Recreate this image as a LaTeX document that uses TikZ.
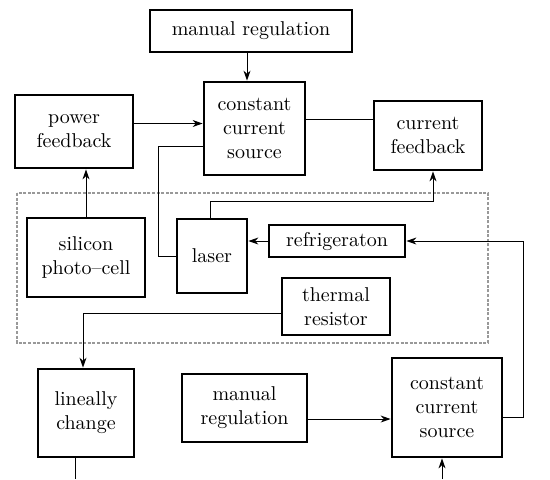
\documentclass[tikz,border=0pt]{standalone}
\usetikzlibrary{arrows.meta}
\tikzset{
  blocco/.style={draw=black, line width=1.4pt, align=center, inner sep=1pt},
  freccia/.style={-{Stealth[length=5pt,width=3.5pt]}, line width=0.5pt},
  linea/.style={line width=0.5pt},
  zona/.style={draw=gray!80, line width=1.3pt, dash pattern=on 1.5pt off 0.8pt},
}

\begin{document}
\begin{tikzpicture}[x=0.5pt, y=-0.5pt]
    \useasboundingbox (0,0) rectangle (550,479);

    % blocchi in alto
    \node[blocco, minimum width=101pt, minimum height=21pt] (manuale) at (251,31) {manual regulation};
    \node[blocco, minimum width=50.5pt, minimum height=46.5pt] (sorgente) at (254.5,128.5) {constant\\current\\source};
    \node[blocco, minimum width=59pt, minimum height=36.5pt] (potenza) at (74,131.5) {power\\feedback};
    \node[blocco, minimum width=54pt, minimum height=34.5pt] (corrente) at (428,135.5) {current\\feedback};

    % zona tratteggiata
    \draw[zona] (17,193) rectangle (488,343);
    \node[blocco, minimum width=59pt, minimum height=39.5pt] (silicio) at (86,257.5) {silicon\\photo--cell};
    \node[blocco, minimum width=35pt, minimum height=37pt] (laser) at (212,256) {laser};
    \node[blocco, minimum width=68pt, minimum height=16pt] (frigo) at (337,241) {refrigeraton};
    \node[blocco, minimum width=54pt, minimum height=28.5pt] (termico) at (336,306.5) {thermal\\resistor};

    % blocchi in basso
    \node[blocco, minimum width=48pt, minimum height=44pt] (lineare) at (86,413) {lineally\\change};
    \node[blocco, minimum width=62.5pt, minimum height=34pt] (manuale2) at (244.5,408) {manual\\regulation};
    \node[blocco, minimum width=55pt, minimum height=49.5pt] (sorgente2) at (447,407.5) {constant\\current\\source};

    \coordinate (uscita) at (75,479);
    \coordinate (ingresso) at (442,479);

    % collegamenti
    \draw[freccia] ([xshift=-2pt]manuale.south) -- ([xshift=-2pt]manuale.south |- sorgente.north);
    \draw[freccia] ([yshift=4pt]potenza.east) -- ([yshift=4pt]potenza.east -| sorgente.west);
    \draw[linea] ([yshift=4.75pt]sorgente.east) -- ([yshift=4.75pt]sorgente.east -| corrente.west);
    \draw[linea] ([yshift=-9pt]sorgente.west) -- ++(-44,0) |- (laser.west);
    \draw[freccia] (silicio.north) -- (silicio.north |- potenza.south);
    \draw[freccia] ([xshift=-1pt]laser.north) -- ++(0,-16) -| ([xshift=2.5pt]corrente.south);
    \draw[freccia] (frigo.west) -- (frigo.west -| laser.east);
    \draw[freccia] ([yshift=-3.25pt]termico.west) -| ([xshift=-1.5pt]lineare.north);
    \draw[linea] (lineare.south -| uscita) -- (uscita);
    \draw[freccia] ([yshift=-5.5pt]manuale2.east) -- ([yshift=-5.5pt]manuale2.east -| sorgente2.west);
    \draw[freccia] ([yshift=-4.75pt]sorgente2.east) -- ++(20,0) |- (frigo.east);
    \draw[freccia] (ingresso) -- (ingresso |- sorgente2.south);
\end{tikzpicture}
\end{document}
